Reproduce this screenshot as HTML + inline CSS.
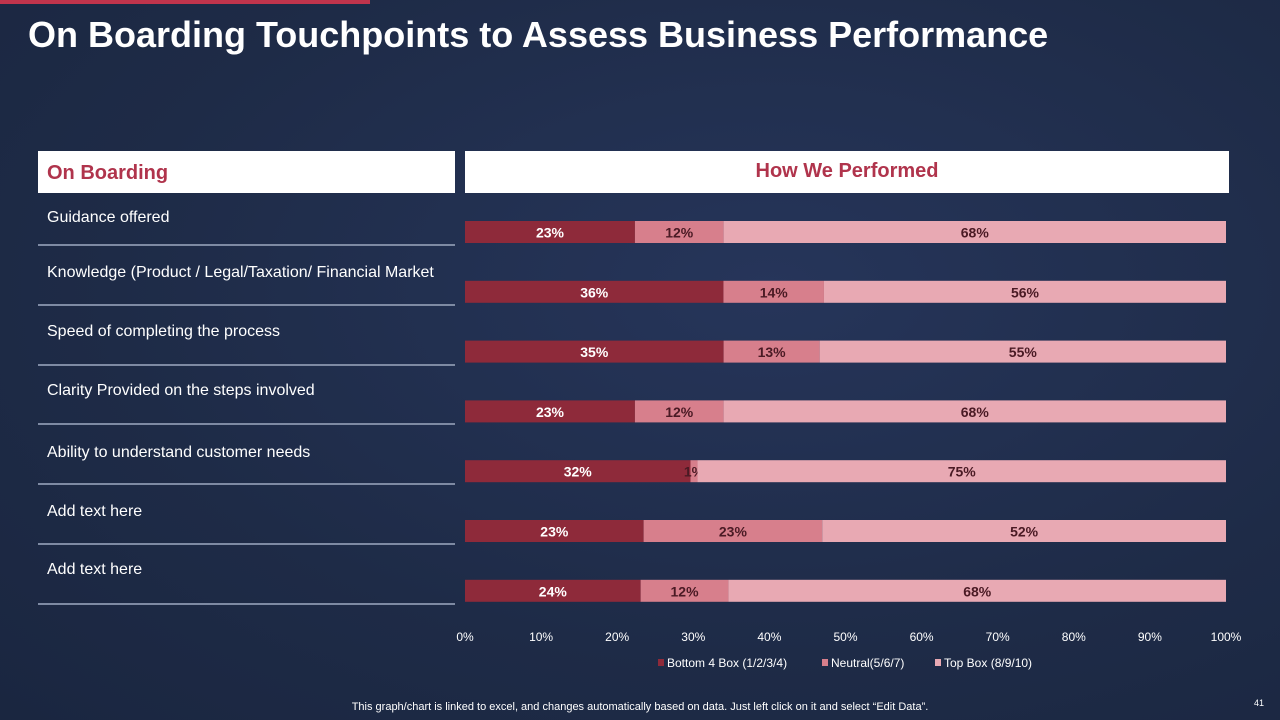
<!DOCTYPE html>
<html><head><meta charset="utf-8"><style>
body{margin:0;width:1280px;height:720px;overflow:hidden;background:#1e2b47;font-family:"Liberation Sans",sans-serif;position:relative}
.bg{position:absolute;inset:0;background:radial-gradient(ellipse at 60% 40%,#26355a 0%,#1e2b47 60%,#1a2640 100%)}
.abs{position:absolute}
.row{position:absolute;left:38px;width:417px;border-bottom:2px solid #7e8aa3;color:#fff;font-size:16px}
</style></head><body>
<div class="bg"></div>
<div class="abs" style="left:0;top:0;width:370px;height:4px;background:#c0344c"></div>
<div class="abs" style="left:28px;top:14px;font-size:36px;font-weight:bold;color:#fff;letter-spacing:0px">On Boarding Touchpoints to Assess Business Performance</div>
<div class="abs" style="left:38px;top:151px;width:417px;height:42px;background:#fff"><span style="position:absolute;left:9px;top:11px;color:#b0344c;font-size:20px;font-weight:bold">On Boarding</span></div>
<div class="abs" style="left:465px;top:151px;width:764px;height:42px;background:#fff;text-align:center"><span style="position:relative;top:9px;color:#b0344c;font-size:20px;font-weight:bold">How We Performed</span></div>
<div id="rows"></div>
<svg id="chart" class="abs" style="left:0;top:0" width="1280" height="720"></svg>
<div class="abs" style="left:0;width:1280px;top:701px;text-align:center;color:#fff;font-size:11px">This graph/chart is linked to excel, and changes automatically based on data. Just left click on it and select “Edit Data”.</div>
<div class="abs" style="left:1254px;top:698px;color:#fff;font-size:9px">41</div>
<script>
const categories=["Guidance offered","Knowledge (Product / Legal/Taxation/  Financial Market","Speed of completing the process","Clarity Provided on the steps involved","Ability to understand customer needs","Add text here","Add text here"];
const bottomBox=[23,36,35,23,32,23,24];
const neutralBox=[12,14,13,12,1,23,12];
const topBox=[68,56,55,68,75,52,68];
const ticks=[0,10,20,30,40,50,60,70,80,90,100];
const seriesNames=["Bottom 4 Box (1/2/3/4)","Neutral(5/6/7)","Top Box (8/9/10)"];
const colors=["#8e2a3a","#d77f8c","#e8a9b3"];
const textColors=["#fff","#4a1a24","#4a1a24"];
const x0=465,x1=1226,yTop=232,rowStep=59.8,barH=22;
const xs=p=>x0+(x1-x0)*p/100;
const ys=i=>yTop+i*rowStep;
const NS="http://www.w3.org/2000/svg";
const svg=document.getElementById('chart');
function mk(t,a){const e=document.createElementNS(NS,t);for(const k in a)e.setAttribute(k,a[k]);svg.appendChild(e);return e;}
const rowsDiv=document.getElementById('rows');
const rowTextY=[219,274,333,392,454,513,571];
categories.forEach((c,i)=>{
 const d=document.createElement('div');d.className='row';
 
 
 d.style.top=(rowTextY[i]-10)+'px';d.style.height=(ys(i)+12-(rowTextY[i]-10))+'px';
 d.innerHTML='<span style="position:absolute;left:9px;top:0px">'+c+'</span>';
 rowsDiv.appendChild(d);
});
const series=[bottomBox,neutralBox,topBox];
categories.forEach((c,i)=>{
 const tot=bottomBox[i]+neutralBox[i]+topBox[i];let acc=0;
 series.forEach((s,k)=>{
  const p=s[i]/tot*100;const xa=xs(acc),xb=xs(acc+p);
  const r=mk('rect',{x:xa,y:ys(i)-barH/2,width:xb-xa,height:barH,fill:colors[k]});
  
  
  const t=mk('text',{x:(xa+xb)/2,y:ys(i)+5.5,'text-anchor':'middle','font-size':14,'font-weight':'bold',fill:textColors[k],'font-family':'Liberation Sans'});
  t.textContent=s[i]+'%';
  
  
  acc+=p;
 });
});
ticks.forEach(v=>{
 const t=mk('text',{x:xs(v),y:641,'text-anchor':'middle','font-size':12,fill:'#fff','font-family':'Liberation Sans'});
 t.textContent=v+'%';
 
 
});
const legX=[658,822,935];
seriesNames.forEach((n,k)=>{
 const r=mk('rect',{x:legX[k],y:659,width:6,height:7,fill:colors[k]});
 
 
 const t=mk('text',{x:legX[k]+9,y:667,'font-size':12,fill:'#fff','font-family':'Liberation Sans'});
 t.textContent=n;
 
 
});
</script>
</body></html>
